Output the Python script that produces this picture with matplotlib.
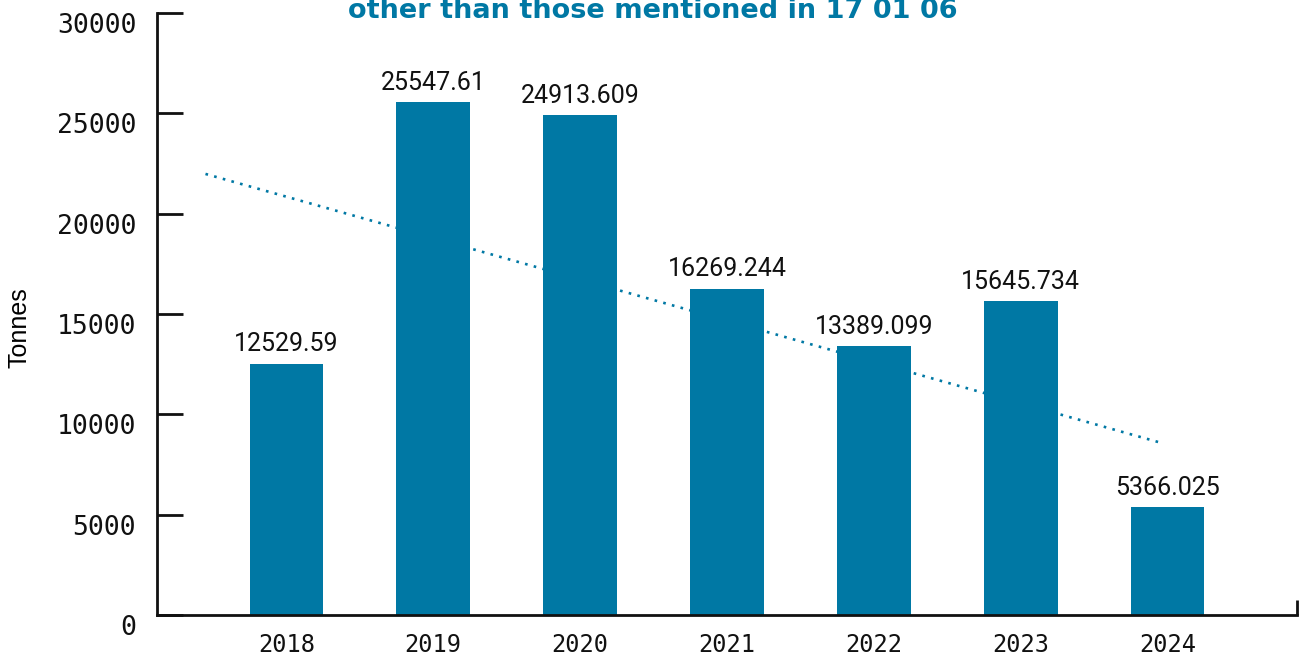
import numpy as np
import matplotlib.pyplot as plt
from matplotlib.transforms import ScaledTranslation

# Tonnes per year
years = ["2018", "2019", "2020", "2021", "2022", "2023", "2024"]
tonnes = [12529.59, 25547.61, 24913.609, 16269.244, 13389.099, 15645.734, 5366.025]
value_labels = ["12529.59", "25547.61", "24913.609", "16269.244", "13389.099", "15645.734", "5366.025"]

# Dotted trend line (start / end)
trend_x = [-0.55, 5.96]
trend_y = [21980, 8570]

y_ticks = [0, 5000, 10000, 15000, 20000, 25000, 30000]

blue = "#0078a4"

fig = plt.figure(figsize=(13.01, 6.58), dpi=100)
ax = fig.add_axes([157 / 1301, 1 - 615 / 658, 1140 / 1301, 602 / 658])

x = np.arange(len(years))
ax.bar(x, tonnes, width=0.5, color=blue, zorder=2)
ax.plot(trend_x, trend_y, color=blue, lw=1.9, ls=(0, (1, 2.4)), zorder=3)

for xi, v, lab in zip(x, tonnes, value_labels):
    ax.annotate(lab, (xi, v), xytext=(0, 9), textcoords="offset points",
                ha="center", va="baseline", fontsize=18, family="Roboto",
                color="#111111")

ax.set_xlim(-0.88, 6.88)
ax.set_ylim(0, 30000)

ax.spines["top"].set_visible(False)
ax.spines["right"].set_visible(False)
for s in ("left", "bottom"):
    ax.spines[s].set_linewidth(2)
    ax.spines[s].set_color("#111111")

ax.set_yticks(y_ticks)
ax.set_yticklabels([str(t) for t in y_ticks], family="DejaVu Sans Mono", fontsize=19)
ax.tick_params(axis="y", direction="in", length=19, width=2, pad=15, colors="#111111")
shift = ScaledTranslation(0, -0.1, fig.dpi_scale_trans)
for lab in ax.get_yticklabels():
    lab.set_transform(lab.get_transform() + shift)

ax.set_xticks(x)
ax.set_xticklabels(years, family="DejaVu Sans Mono", fontsize=17)
ax.tick_params(axis="x", length=0, pad=13, colors="#111111")
ax.set_xticks([6.88], minor=True)
ax.tick_params(axis="x", which="minor", direction="in", length=11, width=2, color="#111111")

ax.set_ylabel("Tonnes", fontsize=18, family="Liberation Sans", labelpad=0)
ax.yaxis.set_label_coords(-0.1105, 0.478)

fig.text(653 / 1301, 1 - 18 / 658, "other than those mentioned in 17 01 06",
         ha="center", va="baseline", fontsize=19.5, fontweight="bold", color=blue)

fig.savefig("out.png", dpi=100)
